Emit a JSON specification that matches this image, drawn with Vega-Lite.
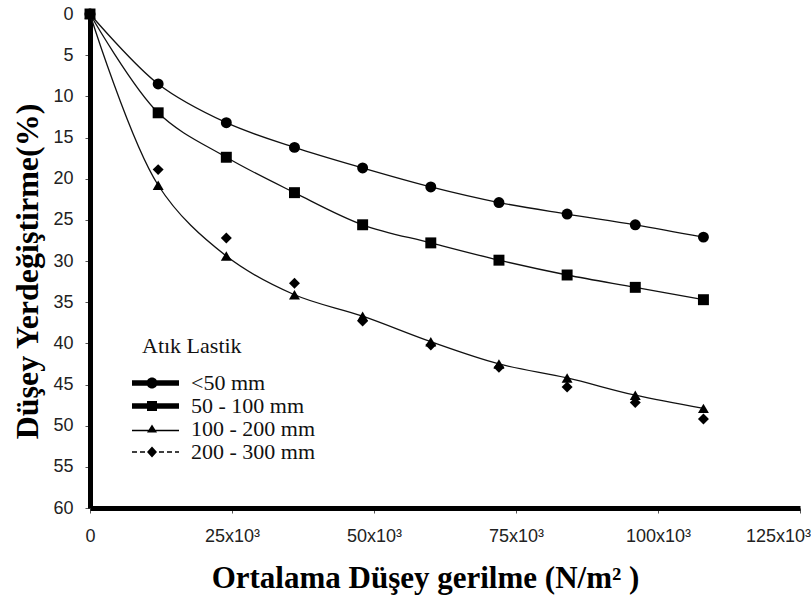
{
  "$schema": "https://vega.github.io/schema/vega-lite/v6.json",
  "width": 710,
  "height": 494,
  "autosize": {"type": "none"},
  "padding": {"left": 90, "top": 14, "right": 11, "bottom": 91},
  "background": "white",
  "config": {
    "view": {"stroke": null},
    "axis": {
      "grid": false,
      "domainColor": "black",
      "domainWidth": 5,
      "tickColor": "#555",
      "tickSize": 5,
      "tickWidth": 1,
      "labelFont": "Liberation Sans",
      "labelFontSize": 18,
      "labelColor": "#222",
      "titleFont": "Liberation Serif",
      "titleFontWeight": "bold",
      "titleFontSize": 31,
      "titleColor": "black"
    }
  },
  "data": {
    "values": [
      {"gerilme": 0, "deformasyon": 0, "boyut": "<50 mm"},
      {"gerilme": 12000, "deformasyon": 8.5, "boyut": "<50 mm"},
      {"gerilme": 24000, "deformasyon": 13.2, "boyut": "<50 mm"},
      {"gerilme": 36000, "deformasyon": 16.2, "boyut": "<50 mm"},
      {"gerilme": 48000, "deformasyon": 18.7, "boyut": "<50 mm"},
      {"gerilme": 60000, "deformasyon": 21.0, "boyut": "<50 mm"},
      {"gerilme": 72000, "deformasyon": 22.9, "boyut": "<50 mm"},
      {"gerilme": 84000, "deformasyon": 24.3, "boyut": "<50 mm"},
      {"gerilme": 96000, "deformasyon": 25.6, "boyut": "<50 mm"},
      {"gerilme": 108000, "deformasyon": 27.1, "boyut": "<50 mm"},
      {"gerilme": 0, "deformasyon": 0, "boyut": "50 - 100 mm"},
      {"gerilme": 12000, "deformasyon": 12.0, "boyut": "50 - 100 mm"},
      {"gerilme": 24000, "deformasyon": 17.4, "boyut": "50 - 100 mm"},
      {"gerilme": 36000, "deformasyon": 21.7, "boyut": "50 - 100 mm"},
      {"gerilme": 48000, "deformasyon": 25.6, "boyut": "50 - 100 mm"},
      {"gerilme": 60000, "deformasyon": 27.8, "boyut": "50 - 100 mm"},
      {"gerilme": 72000, "deformasyon": 29.9, "boyut": "50 - 100 mm"},
      {"gerilme": 84000, "deformasyon": 31.7, "boyut": "50 - 100 mm"},
      {"gerilme": 96000, "deformasyon": 33.2, "boyut": "50 - 100 mm"},
      {"gerilme": 108000, "deformasyon": 34.7, "boyut": "50 - 100 mm"},
      {"gerilme": 0, "deformasyon": 0, "boyut": "100 - 200 mm"},
      {"gerilme": 12000, "deformasyon": 20.8, "boyut": "100 - 200 mm"},
      {"gerilme": 24000, "deformasyon": 29.4, "boyut": "100 - 200 mm"},
      {"gerilme": 36000, "deformasyon": 34.1, "boyut": "100 - 200 mm"},
      {"gerilme": 48000, "deformasyon": 36.7, "boyut": "100 - 200 mm"},
      {"gerilme": 60000, "deformasyon": 39.8, "boyut": "100 - 200 mm"},
      {"gerilme": 72000, "deformasyon": 42.5, "boyut": "100 - 200 mm"},
      {"gerilme": 84000, "deformasyon": 44.2, "boyut": "100 - 200 mm"},
      {"gerilme": 96000, "deformasyon": 46.3, "boyut": "100 - 200 mm"},
      {"gerilme": 108000, "deformasyon": 47.9, "boyut": "100 - 200 mm"},
      {"gerilme": 0, "deformasyon": 0, "boyut": "200 - 300 mm"},
      {"gerilme": 12000, "deformasyon": 18.9, "boyut": "200 - 300 mm"},
      {"gerilme": 24000, "deformasyon": 27.2, "boyut": "200 - 300 mm"},
      {"gerilme": 36000, "deformasyon": 32.7, "boyut": "200 - 300 mm"},
      {"gerilme": 48000, "deformasyon": 37.3, "boyut": "200 - 300 mm"},
      {"gerilme": 60000, "deformasyon": 40.2, "boyut": "200 - 300 mm"},
      {"gerilme": 72000, "deformasyon": 42.9, "boyut": "200 - 300 mm"},
      {"gerilme": 84000, "deformasyon": 45.3, "boyut": "200 - 300 mm"},
      {"gerilme": 96000, "deformasyon": 47.2, "boyut": "200 - 300 mm"},
      {"gerilme": 108000, "deformasyon": 49.2, "boyut": "200 - 300 mm"}
    ]
  },
  "encoding": {
    "x": {
      "field": "gerilme",
      "type": "quantitative",
      "scale": {"domain": [0, 125000], "nice": false},
      "axis": {
        "values": [0, 25000, 50000, 75000, 100000, 125000],
        "labelExpr": "datum.value == 0 ? '0' : (datum.value / 1000) + 'x10³'",
        "labelFlush": false,
        "labelOffset": {"condition": {"test": "datum.value == 125000", "value": -22}, "value": 0},
        "labelPadding": 14,
        "title": "Ortalama Düşey gerilme (N/m² )",
        "titleX": 335,
        "titleY": 70,
        "titleBaseline": "middle",
        "titleAlign": "center"
      }
    },
    "y": {
      "field": "deformasyon",
      "type": "quantitative",
      "scale": {"domain": [0, 60], "nice": false, "reverse": true},
      "axis": {
        "values": [0, 5, 10, 15, 20, 25, 30, 35, 40, 45, 50, 55, 60],
        "labelPadding": 12,
        "title": "Düşey Yerdeğiştirme(%)",
        "titleFontSize": 32,
        "titleX": -63,
        "titleY": 257,
        "titleAngle": -90,
        "titleBaseline": "middle",
        "titleAlign": "center"
      }
    }
  },
  "layer": [
    {
      "transform": [{"filter": "datum.boyut != '200 - 300 mm'"}],
      "mark": {"type": "line", "interpolate": "catmull-rom", "color": "#111", "strokeWidth": 1.3},
      "encoding": {"detail": {"field": "boyut"}}
    },
    {
      "mark": {"type": "point", "filled": true, "opacity": 1, "color": "black", "size": 120},
      "encoding": {
        "shape": {
          "field": "boyut",
          "type": "nominal",
          "scale": {
            "domain": ["<50 mm", "50 - 100 mm", "100 - 200 mm", "200 - 300 mm"],
            "range": ["circle", "square", "triangle-up", "diamond"]
          },
          "legend": null
        }
      }
    },
    {
      "transform": [{"filter": "false"}],
      "mark": {"type": "point", "filled": true, "opacity": 1, "color": "black", "size": 100},
      "encoding": {
        "shape": {
          "field": "boyut",
          "type": "nominal",
          "scale": {
            "domain": ["<50 mm", "50 - 100 mm", "100 - 200 mm", "200 - 300 mm"],
            "range": [
              "M-4.2,-0.55H5.2V0.55H-4.2Z M-1.3,0A1.1,1.1 0 1,1 0.9,0A1.1,1.1 0 1,1 -1.3,0Z",
              "M-4.2,-0.55H5.2V0.55H-4.2Z M-1.2,-1H0.8V1H-1.2Z",
              "M-4.2,0.15H5.2V0.45H-4.2Z M-0.2,-0.9L0.8,0.7H-1.2Z",
              "M-4.2,-0.15H-3.2V0.15H-4.2Z M-2.6,-0.15H-1.6V0.15H-2.6Z M-0.2,-1.1L0.8,0L-0.2,1.1L-1.2,0Z M1.2,-0.15H2.2V0.15H1.2Z M2.8,-0.15H3.8V0.15H2.8Z M4.4,-0.15H5.2V0.15H4.4Z"
            ]
          },
          "legend": {
            "orient": "none",
            "legendX": 52,
            "legendY": 322,
            "title": "Atık Lastik",
            "titleFont": "Liberation Serif",
            "titleFontSize": 22,
            "titleFontWeight": "normal",
            "titleColor": "#111",
            "titlePadding": 14,
            "labelFont": "Liberation Serif",
            "labelFontSize": 22,
            "labelColor": "#111",
            "labelOffset": 27,
            "symbolSize": 100,
            "symbolFillColor": "black",
            "symbolStrokeWidth": 0,
            "rowPadding": 1
          }
        }
      }
    }
  ],
  "resolve": {"scale": {"shape": "independent"}}
}
